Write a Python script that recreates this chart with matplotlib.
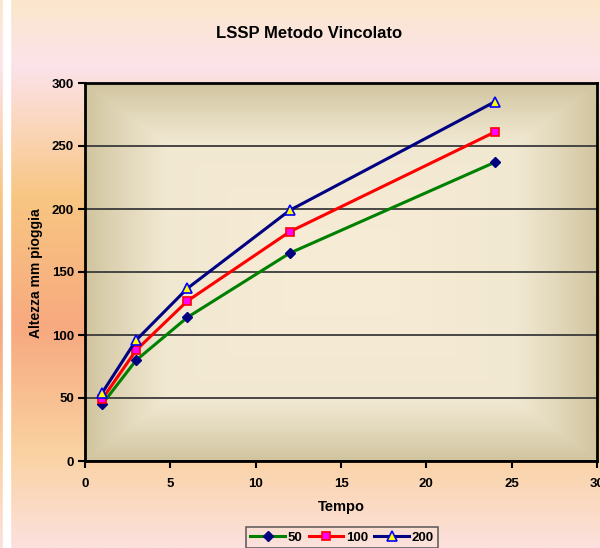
import numpy as np
import matplotlib
matplotlib.use("Agg")
import matplotlib.pyplot as plt
from matplotlib.colors import LinearSegmentedColormap

plt.rcParams['font.family'] = ['Liberation Sans', 'DejaVu Sans']
plt.rcParams['font.weight'] = 'bold'

# data
tempo = [1, 3, 6, 12, 24]
h50 = [45, 80, 114, 165, 237]
h100 = [49, 88, 127, 182, 261]
h200 = [54, 96, 137, 199, 285]
labels = ['50', '100', '200']

W, H = 600, 548
fig = plt.figure(figsize=(W / 100, H / 100), dpi=100)

# chart background: vertical gradient
bg = fig.add_axes([0, 0, 1, 1], zorder=-10)
bg.axis('off')
stops = [(0.0, '#fbe7cc'), (0.12, '#fce3ea'), (0.36, '#f8c682'),
         (0.60, '#f7a97f'), (0.82, '#fad1a0'), (1.0, '#fce1dd')]
cmap_bg = LinearSegmentedColormap.from_list('bg', stops)
grad = np.linspace(0, 1, 256).reshape(-1, 1)
bg.imshow(grad, aspect='auto', cmap=cmap_bg, extent=[0, W, H, 0])
bg.axvspan(3, 10, color='white')
bg.set_xlim(0, W)
bg.set_ylim(H, 0)

# plot area
ax = fig.add_axes([85 / W, 1 - 461 / H, 512 / W, 378 / H])
ax.set_xlim(0, 30)
ax.set_ylim(0, 300)

# plot area gradient: light centre, tan edges
nx, ny = 300, 220
u = np.linspace(-1, 1, nx)
v = np.linspace(-1, 1, ny)
U, V = np.meshgrid(u, v)
t = np.maximum(np.abs(U), np.abs(V))
cmap_pa = LinearSegmentedColormap.from_list(
    'pa', [(0.0, '#f7ecd6'), (0.55, '#f1e8d2'), (1.0, '#d1c59f')])
ax.imshow(t ** 1.6, aspect='auto', cmap=cmap_pa, extent=[0, 30, 0, 300],
          origin='lower', zorder=0)

ax.set_yticks(range(0, 301, 50))
ax.set_xticks(range(0, 31, 5))
ax.grid(axis='y', color='#3a3a3a', linewidth=1.3, zorder=1)
for s in ax.spines.values():
    s.set_linewidth(2)
    s.set_color('black')
ax.tick_params(axis='both', direction='out', length=5, width=1.5,
               labelsize=9.5, colors='black')
ax.tick_params(axis='y', pad=3)
ax.tick_params(axis='x', pad=7)
for lb in ax.get_xticklabels() + ax.get_yticklabels():
    lb.set_fontweight('bold')

ax.plot(tempo, h50, color='#008000', lw=2.2, marker='D', ms=5,
        mfc='#000080', mec='#000080', label=labels[0], zorder=3)
ax.plot(tempo, h100, color='#ff0000', lw=2.2, marker='s', ms=6,
        mfc='#ff00ff', mec='#ff0000', mew=1.2, label=labels[1], zorder=3)
ax.plot(tempo, h200, color='#000080', lw=2.2, marker='^', ms=7,
        mfc='#ffff00', mec='#0000ff', mew=1.2, label=labels[2], zorder=3)

fig.text(309 / W, 1 - 33 / H, 'LSSP Metodo Vincolato', ha='center',
         va='center', fontsize=12, fontweight='bold')
fig.text(36 / W, 1 - 273 / H, 'Altezza mm pioggia', ha='center',
         va='center', rotation=90, fontsize=10, fontweight='bold')
fig.text(341 / W, 1 - 507 / H, 'Tempo', ha='center', va='center',
         fontsize=10.5, fontweight='bold')

leg = fig.legend(loc='upper center', bbox_to_anchor=(342 / W, 1 - 527 / H),
                 ncol=3, fontsize=9.5, frameon=True, fancybox=False,
                 handlelength=2.6, handletextpad=0.2, columnspacing=0.5,
                 borderpad=0.35, borderaxespad=0)
leg.get_frame().set_facecolor('none')
leg.get_frame().set_edgecolor('#404040')
leg.get_frame().set_linewidth(1.2)
for tx in leg.get_texts():
    tx.set_fontweight('bold')

fig.savefig('out.png', dpi=100)
